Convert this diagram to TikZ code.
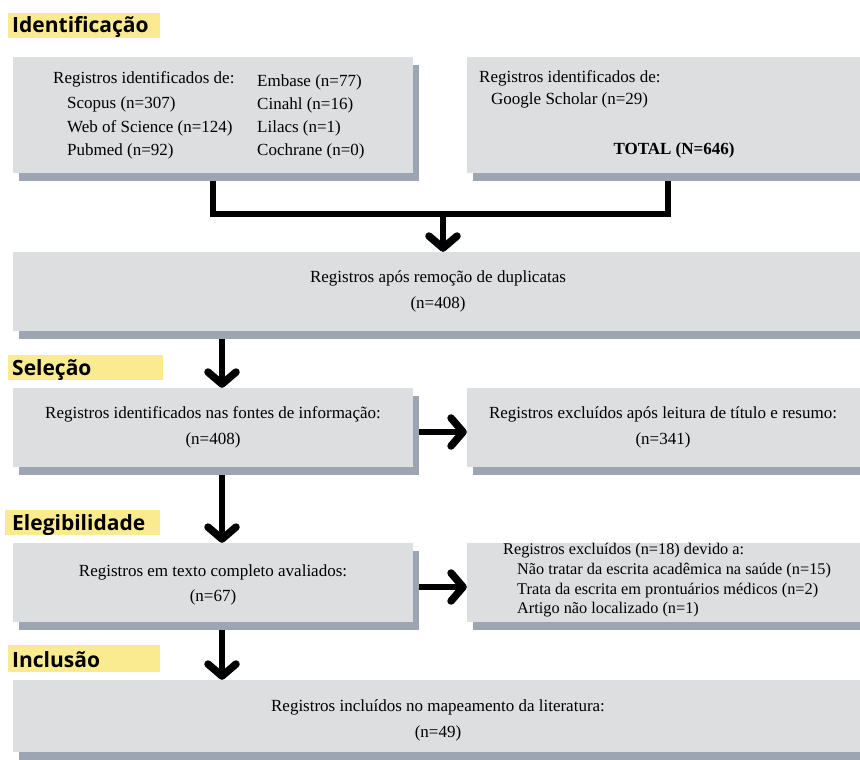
\documentclass[tikz,border=0pt]{standalone}
\usepackage{fontspec}
\setmainfont{Liberation Serif}
\newfontfamily\headfont{Open Sans}
\usetikzlibrary{arrows.meta,shadows,backgrounds}
\definecolor{boxfill}{RGB}{221,222,223}
\definecolor{shadowc}{RGB}{156,165,177}
\definecolor{hilite}{RGB}{250,235,145}
\begin{document}
\begin{tikzpicture}[x=1pt,y=-1pt,
  gbox/.style={rectangle, fill=boxfill, inner sep=0pt,
    drop shadow={shadow xshift=6pt, shadow yshift=-8pt, fill=shadowc, opacity=1}},
  txt/.style={inner sep=0pt, font=\fontsize{17}{20}\selectfont},
  txtb/.style={inner sep=0pt, font=\bfseries\fontsize{17}{20}\selectfont},
  txts/.style={inner sep=0pt, anchor=west, font=\fontsize{16.3}{20}\selectfont},
  head/.style={inner sep=0pt, anchor=base west, font=\headfont\bfseries\fontsize{21}{24}\selectfont},
  hl/.style={fill=hilite},
  conn/.style={line width=6.5pt, line join=miter},
  arr/.style={line width=6.5pt, -{Straight Barb[length=12pt,width=28pt,round,line width=7.5pt]}}]
\useasboundingbox (0,0) rectangle (860,760);
% boxes
\node[gbox, minimum width=400pt, minimum height=116pt] (b1) at (213,115) {};
\node[gbox, minimum width=393pt, minimum height=116pt] (b2) at (663.5,115) {};
\node[gbox, minimum width=847pt, minimum height=79pt] (b3) at (436.5,291.5) {};
\node[gbox, minimum width=400pt, minimum height=79pt] (b4) at (213,427.5) {};
\node[gbox, minimum width=393pt, minimum height=79pt] (b5) at (663.5,427.5) {};
\node[gbox, minimum width=400pt, minimum height=79pt] (b6) at (213,582.5) {};
\node[gbox, minimum width=393pt, minimum height=79pt] (b7) at (663.5,582.5) {};
\node[gbox, minimum width=847pt, minimum height=72pt] (b8) at (436.5,716) {};
% headings
\fill[hl] (8,13) rectangle (160,38);
\node[head] (h1) at (12,33) {Identificação};
\fill[hl] (8,355) rectangle (163,380);
\node[head] (h2) at (12,375) {Seleção};
\fill[hl] (5,510) rectangle (160,535);
\node[head] (h3) at (12,530) {Elegibilidade};
\fill[hl] (8,645) rectangle (160,672);
\node[head] (h4) at (12,667) {Inclusão};
% box 1 texts
\node[txt, anchor=west] (t1a) at (53,79) {Registros identificados de:};
\node[txt, anchor=west] (t1b) at (67,104) {Scopus (n=307)};
\node[txt, anchor=west] (t1c) at (67,128) {Web of Science (n=124)};
\node[txt, anchor=west] (t1d) at (67,151) {Pubmed (n=92)};
\node[txt, anchor=west] (t1e) at (257,82) {Embase (n=77)};
\node[txt, anchor=west] (t1f) at (257,105) {Cinahl (n=16)};
\node[txt, anchor=west] (t1g) at (257,128) {Lilacs (n=1)};
\node[txt, anchor=west] (t1h) at (257,151) {Cochrane (n=0)};
% box 2 texts
\node[txt, anchor=west] (t2a) at (479,78) {Registros identificados de:};
\node[txt, anchor=west] (t2b) at (491,100) {Google Scholar (n=29)};
\node[txtb] (t2c) at (674,150) {TOTAL (N=646)};
% box 3
\node[txt] (t3a) at (438,278) {Registros após remoção de duplicatas};
\node[txt] (t3b) at (438,304) {(n=408)};
% box 4
\node[txt] (t4a) at (213,414) {Registros identificados nas fontes de informação:};
\node[txt] (t4b) at (213,440) {(n=408)};
% box 5
\node[txt] (t5a) at (663,414) {Registros excluídos após leitura de título e resumo:};
\node[txt] (t5b) at (663,440) {(n=341)};
% box 6
\node[txt] (t6a) at (213,572) {Registros em texto completo avaliados:};
\node[txt] (t6b) at (213,597) {(n=67)};
% box 7
\node[txts] (t7a) at (503,551) {Registros excluídos (n=18) devido a:};
\node[txts] (t7b) at (517,571) {Não tratar da escrita acadêmica na saúde (n=15)};
\node[txts] (t7c) at (517,591) {Trata da escrita em prontuários médicos (n=2)};
\node[txts] (t7d) at (517,610) {Artigo não localizado (n=1)};
% box 8
\node[txt] (t8a) at (438,707) {Registros incluídos no mapeamento da literatura:};
\node[txt] (t8b) at (438,733) {(n=49)};
% connectors
\coordinate (m) at (443,214);
\coordinate (b2a) at ([xshift=4.5pt]b2.south);
\coordinate (s4) at ([xshift=9pt]b4.north);
\coordinate (s6) at ([xshift=9pt]b6.north);
\coordinate (s8) at (s6 |- b8.north);
\begin{scope}[on background layer]
\fill[white] (0,0) rectangle (860,760);
\draw[conn] (b1.south) |- (b2a |- m) -- (b2a);
\draw[arr] (m) -- (m |- b3.north);
\draw[arr] (s4 |- b3.south) -- (s4);
\draw[arr] (s6 |- b4.south) -- (s6);
\draw[arr] (s6 |- b6.south) -- (s8);
\draw[arr] ([yshift=-4.5pt]b4.east) -- ([yshift=-4.5pt]b5.west);
\draw[arr] ([yshift=-4.5pt]b6.east) -- ([yshift=-4.5pt]b7.west);
\end{scope}
\end{tikzpicture}
\end{document}
